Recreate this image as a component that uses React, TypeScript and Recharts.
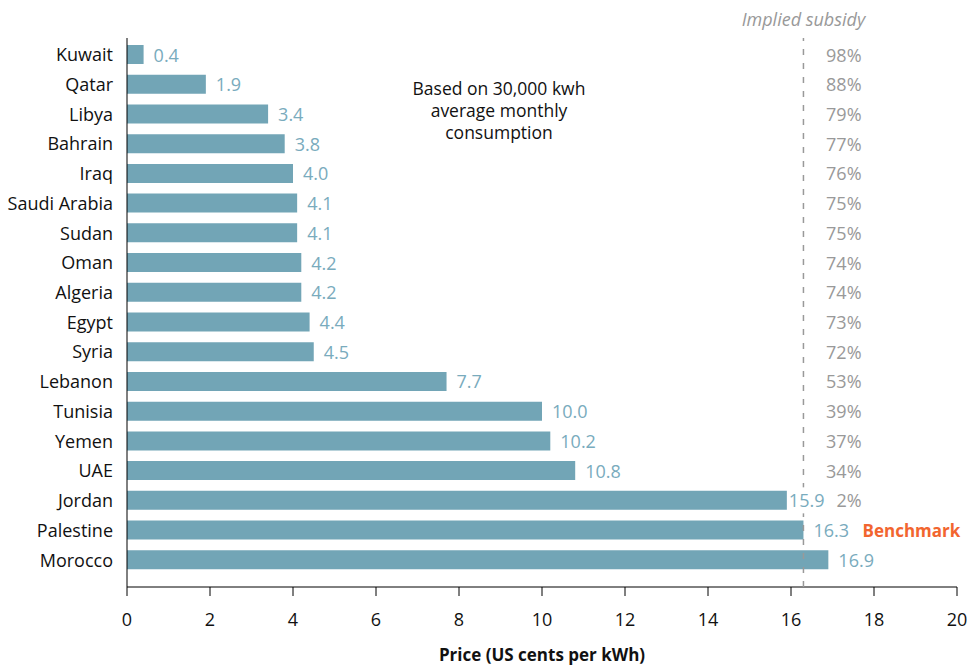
import { Bar, BarChart, LabelList, ReferenceLine, XAxis, YAxis } from "recharts";

const countries = [
  "Kuwait", "Qatar", "Libya", "Bahrain", "Iraq", "Saudi Arabia", "Sudan", "Oman", "Algeria",
  "Egypt", "Syria", "Lebanon", "Tunisia", "Yemen", "UAE", "Jordan", "Palestine", "Morocco",
];
const prices = [0.4, 1.9, 3.4, 3.8, 4.0, 4.1, 4.1, 4.2, 4.2, 4.4, 4.5, 7.7, 10.0, 10.2, 10.8, 15.9, 16.3, 16.9];
const subsidies = ["98%", "88%", "79%", "77%", "76%", "75%", "75%", "74%", "74%", "73%", "72%", "53%", "39%", "37%", "34%", "2%", "Benchmark", ""];
const xTicks = [0, 2, 4, 6, 8, 10, 12, 14, 16, 18, 20];
const noteLines = ["Based on 30,000 kwh", "average monthly", "consumption"];
const BENCHMARK = 16.3;
const SUBSIDY_COLUMN = 17.7; // right edge of the subsidy column, in price units

const data = countries.map((name, i) => ({ name, price: prices[i], subsidy: subsidies[i] }));

const FONT = "'Open Sans', sans-serif";
const SIZE = 18;
const BAR = "#72a5b6";
const VALUE = "#79abbd";
const GREY = "#999999";
const ORANGE = "#f2652f";

function ValueLabel(props: any) {
  const { x, y, width, height, value, index } = props;
  const gap = countries[index] === "Jordan" ? 2 : 10;
  const text = Number(value).toFixed(1);
  const tx = Number(x) + Number(width) + gap;
  const cy = Number(y) + Number(height) / 2;
  return (
    <g>
      {/* white backing so the benchmark line stops behind the label */}
      <rect x={tx - 1} y={cy - 13} width={text.length * 10.5 + 2} height={26} fill="#fff" />
      <text x={tx} y={cy} dominantBaseline="central" fill={VALUE} fontSize={SIZE} fontFamily={FONT}>
        {text}
      </text>
    </g>
  );
}

function SubsidyLabel(props: any) {
  const { x, y, width, height, index } = props;
  const text = subsidies[index];
  if (!text) return null;
  const unit = Number(width) / prices[index];
  const px = Number(x) + unit * SUBSIDY_COLUMN;
  const cy = Number(y) + Number(height) / 2;
  if (text === "Benchmark") {
    return (
      <text x={px + 1} y={cy} dominantBaseline="central" fill={ORANGE} fontSize={17} fontWeight={700} fontFamily={FONT}>
        {text}
      </text>
    );
  }
  return (
    <text x={px} y={cy} dominantBaseline="central" textAnchor="end" fill={GREY} fontSize={SIZE} fontFamily={FONT}>
      {text}
    </text>
  );
}

export default function App() {
  return (
    <div style={{ position: "absolute", left: 0, top: 0, width: 968, height: 666, background: "#fff", fontFamily: FONT }}>
      <BarChart width={968} height={666} data={data} layout="vertical" margin={{ top: 38, right: 11, bottom: 0, left: 0 }}>
        <XAxis type="number" domain={[0, 20]} ticks={xTicks} interval={0} height={79}
          axisLine={{ stroke: "#000" }} tickLine={{ stroke: "#000" }} tickSize={9} tickMargin={17}
          tick={{ fill: "#111", fontSize: SIZE, fontFamily: FONT }}
          label={{ value: "Price (US cents per kWh)", position: "insideBottom", offset: 5, fill: "#111", fontSize: 17, fontWeight: 700, fontFamily: FONT }} />
        <YAxis type="category" dataKey="name" width={127} padding={{ top: 2, bottom: 12 }}
          axisLine={{ stroke: "#000" }} tickLine={false} tickSize={0} tickMargin={14} interval={0}
          tick={{ fill: "#111", fontSize: SIZE, fontFamily: FONT }} />
        <ReferenceLine x={BENCHMARK} stroke={GREY} strokeWidth={1.5} strokeDasharray="6 8" zIndex={1500}
          label={{ value: "Implied subsidy", position: "top", offset: 12, fill: GREY, fontSize: SIZE, fontStyle: "italic", fontFamily: FONT }} />
        <Bar dataKey="price" fill={BAR} barSize={19} isAnimationActive={false}>
          <LabelList dataKey="price" content={ValueLabel} />
          <LabelList dataKey="subsidy" content={SubsidyLabel} />
        </Bar>
      </BarChart>
      {/* note in the upper middle of the plot */}
      <div style={{ position: "absolute", left: 389, top: 77, width: 220, textAlign: "center", fontSize: 17.5, lineHeight: "22px", color: "#111" }}>
        {noteLines.map((line) => <div key={line}>{line}</div>)}
      </div>
    </div>
  );
}
